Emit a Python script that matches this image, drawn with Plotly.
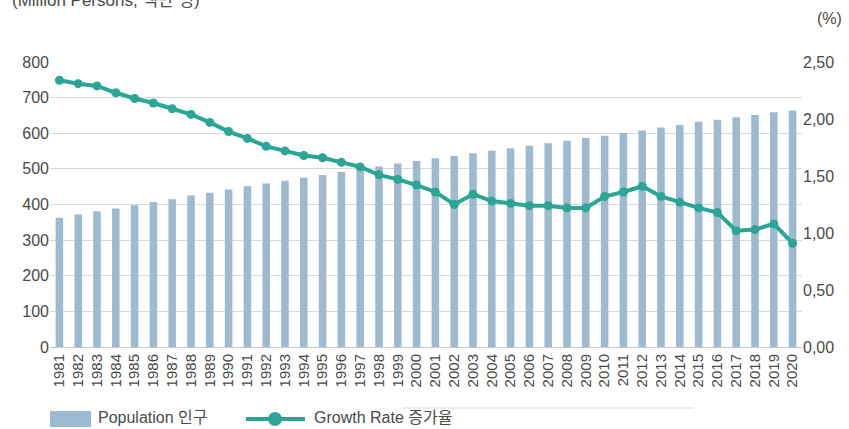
import plotly.graph_objects as go

years = [str(y) for y in range(1981, 2021)]

population = [363, 372, 381, 389, 398, 407, 415, 425, 433, 442,
              451, 459, 467, 475, 483, 491, 500, 507, 515, 522,
              530, 536, 544, 551, 558, 565, 572, 579, 587, 593,
              601, 608, 616, 623, 632, 638, 645, 651, 659, 664]

growth_rate = [2.34, 2.31, 2.29, 2.23, 2.18, 2.14, 2.09, 2.04, 1.97, 1.89,
               1.83, 1.76, 1.72, 1.68, 1.66, 1.62, 1.58, 1.51, 1.47, 1.42,
               1.36, 1.25, 1.34, 1.28, 1.26, 1.24, 1.24, 1.22, 1.22, 1.32,
               1.36, 1.41, 1.32, 1.27, 1.22, 1.18, 1.02, 1.03, 1.08, 0.91]

left_ticks = [0, 100, 200, 300, 400, 500, 600, 700, 800]
right_ticks = [0, 0.5, 1.0, 1.5, 2.0, 2.5]
right_ticktext = ["0,00", "0,50", "1,00", "1,50", "2,00", "2,50"]

BAR_COLOR = "#9dbad0"
LINE_COLOR = "#2ba596"
TEXT_COLOR = "#4a4a4a"
FONT = "Liberation Sans, Arial, Noto Sans CJK KR, sans-serif"

fig = go.Figure()

fig.add_trace(go.Bar(
    x=years, y=population, name="Population 인구",
    marker=dict(color=BAR_COLOR, line=dict(width=0)),
    width=0.4, yaxis="y",
))

fig.add_trace(go.Scatter(
    x=years, y=growth_rate, name="Growth Rate 증가율",
    mode="lines+markers",
    line=dict(color=LINE_COLOR, width=4),
    marker=dict(color=LINE_COLOR, size=9),
    yaxis="y2",
))

W, H = 849, 429
L, R, T, B = 50, 47, 62, 82

def px_to_paper_x(px):
    return (px - L) / (W - L - R)

def px_to_paper_y(py):
    return (H - B - py) / (H - T - B)

shapes = [
    # legend key for the bars
    dict(type="rect", xref="paper", yref="paper",
         x0=px_to_paper_x(50), x1=px_to_paper_x(91),
         y0=px_to_paper_y(427), y1=px_to_paper_y(411),
         fillcolor=BAR_COLOR, line=dict(width=0)),
    # legend key for the line
    dict(type="line", xref="paper", yref="paper",
         x0=px_to_paper_x(246), x1=px_to_paper_x(305),
         y0=px_to_paper_y(419), y1=px_to_paper_y(419),
         line=dict(color=LINE_COLOR, width=4)),
    dict(type="circle", xref="paper", yref="paper",
         x0=px_to_paper_x(268), x1=px_to_paper_x(282),
         y0=px_to_paper_y(426), y1=px_to_paper_y(412),
         fillcolor=LINE_COLOR, line=dict(width=0)),
    # thin rule beside the legend
    dict(type="line", xref="paper", yref="paper",
         x0=px_to_paper_x(403), x1=px_to_paper_x(694),
         y0=px_to_paper_y(408), y1=px_to_paper_y(408),
         line=dict(color="#d9d9d9", width=1)),
]

annotations = [
    dict(text="(Million Persons, 백만 명)", xref="paper", yref="paper",
         x=px_to_paper_x(10), y=px_to_paper_y(0), xanchor="left", yanchor="middle",
         showarrow=False, font=dict(family=FONT, size=17, color=TEXT_COLOR)),
    dict(text="(%)", xref="paper", yref="paper",
         x=px_to_paper_x(844), y=px_to_paper_y(19), xanchor="right", yanchor="middle",
         showarrow=False, font=dict(family=FONT, size=16, color=TEXT_COLOR)),
    dict(text="Population 인구", xref="paper", yref="paper",
         x=px_to_paper_x(96), y=px_to_paper_y(418), xanchor="left", yanchor="middle",
         showarrow=False, font=dict(family=FONT, size=16, color=TEXT_COLOR)),
    dict(text="Growth Rate 증가율", xref="paper", yref="paper",
         x=px_to_paper_x(312), y=px_to_paper_y(418), xanchor="left", yanchor="middle",
         showarrow=False, font=dict(family=FONT, size=16, color=TEXT_COLOR)),
]

fig.update_layout(
    width=W, height=H,
    margin=dict(l=L, r=R, t=T, b=B, pad=0),
    paper_bgcolor="white", plot_bgcolor="white",
    showlegend=False,
    font=dict(family=FONT, size=15, color=TEXT_COLOR),
    xaxis=dict(
        type="category", tickangle=-90, showgrid=False,
        tickmode="array", tickvals=years, ticktext=years,
        showline=True, linecolor="#c8c8c8", linewidth=1,
        ticks="", tickfont=dict(size=15, family=FONT, color=TEXT_COLOR),
        range=[-0.5, 39.5],
    ),
    yaxis=dict(
        range=[0, 800], tickvals=left_ticks, showgrid=True,
        gridcolor="#d9d9d9", gridwidth=1, zeroline=False, ticks="",
        tickfont=dict(size=16, family=FONT, color=TEXT_COLOR),
    ),
    yaxis2=dict(
        range=[0, 2.5], tickvals=right_ticks, ticktext=right_ticktext,
        overlaying="y", side="right", showgrid=False, zeroline=False, ticks="",
        tickfont=dict(size=16, family=FONT, color=TEXT_COLOR),
    ),
    shapes=shapes,
    annotations=annotations,
)

fig.write_html("out.html")
